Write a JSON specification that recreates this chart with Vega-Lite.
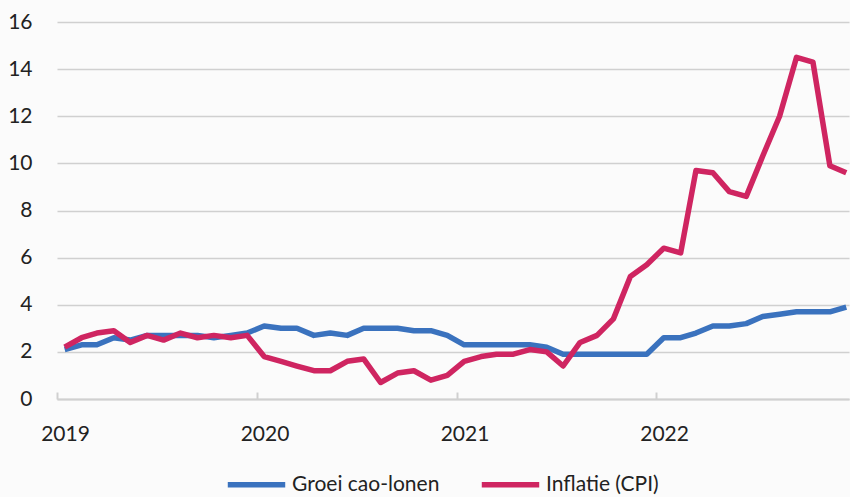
{
  "$schema": "https://vega.github.io/schema/vega-lite/v6.json",
  "width": 792,
  "height": 377,
  "autosize": {"type": "none"},
  "padding": {"left": 57, "top": 22, "right": 1, "bottom": 98},
  "background": "#fbfbfb",
  "datasets": {
    "rows": [
      {"date": "2019-01-15", "serie": "Groei cao-lonen", "value": 2.1},
      {"date": "2019-02-15", "serie": "Groei cao-lonen", "value": 2.3},
      {"date": "2019-03-15", "serie": "Groei cao-lonen", "value": 2.3},
      {"date": "2019-04-15", "serie": "Groei cao-lonen", "value": 2.6},
      {"date": "2019-05-15", "serie": "Groei cao-lonen", "value": 2.5},
      {"date": "2019-06-15", "serie": "Groei cao-lonen", "value": 2.7},
      {"date": "2019-07-15", "serie": "Groei cao-lonen", "value": 2.7},
      {"date": "2019-08-15", "serie": "Groei cao-lonen", "value": 2.7},
      {"date": "2019-09-15", "serie": "Groei cao-lonen", "value": 2.7},
      {"date": "2019-10-15", "serie": "Groei cao-lonen", "value": 2.6},
      {"date": "2019-11-15", "serie": "Groei cao-lonen", "value": 2.7},
      {"date": "2019-12-15", "serie": "Groei cao-lonen", "value": 2.8},
      {"date": "2020-01-15", "serie": "Groei cao-lonen", "value": 3.1},
      {"date": "2020-02-15", "serie": "Groei cao-lonen", "value": 3.0},
      {"date": "2020-03-15", "serie": "Groei cao-lonen", "value": 3.0},
      {"date": "2020-04-15", "serie": "Groei cao-lonen", "value": 2.7},
      {"date": "2020-05-15", "serie": "Groei cao-lonen", "value": 2.8},
      {"date": "2020-06-15", "serie": "Groei cao-lonen", "value": 2.7},
      {"date": "2020-07-15", "serie": "Groei cao-lonen", "value": 3.0},
      {"date": "2020-08-15", "serie": "Groei cao-lonen", "value": 3.0},
      {"date": "2020-09-15", "serie": "Groei cao-lonen", "value": 3.0},
      {"date": "2020-10-15", "serie": "Groei cao-lonen", "value": 2.9},
      {"date": "2020-11-15", "serie": "Groei cao-lonen", "value": 2.9},
      {"date": "2020-12-15", "serie": "Groei cao-lonen", "value": 2.7},
      {"date": "2021-01-15", "serie": "Groei cao-lonen", "value": 2.3},
      {"date": "2021-02-15", "serie": "Groei cao-lonen", "value": 2.3},
      {"date": "2021-03-15", "serie": "Groei cao-lonen", "value": 2.3},
      {"date": "2021-04-15", "serie": "Groei cao-lonen", "value": 2.3},
      {"date": "2021-05-15", "serie": "Groei cao-lonen", "value": 2.3},
      {"date": "2021-06-15", "serie": "Groei cao-lonen", "value": 2.2},
      {"date": "2021-07-15", "serie": "Groei cao-lonen", "value": 1.9},
      {"date": "2021-08-15", "serie": "Groei cao-lonen", "value": 1.9},
      {"date": "2021-09-15", "serie": "Groei cao-lonen", "value": 1.9},
      {"date": "2021-10-15", "serie": "Groei cao-lonen", "value": 1.9},
      {"date": "2021-11-15", "serie": "Groei cao-lonen", "value": 1.9},
      {"date": "2021-12-15", "serie": "Groei cao-lonen", "value": 1.9},
      {"date": "2022-01-15", "serie": "Groei cao-lonen", "value": 2.6},
      {"date": "2022-02-15", "serie": "Groei cao-lonen", "value": 2.6},
      {"date": "2022-03-15", "serie": "Groei cao-lonen", "value": 2.8},
      {"date": "2022-04-15", "serie": "Groei cao-lonen", "value": 3.1},
      {"date": "2022-05-15", "serie": "Groei cao-lonen", "value": 3.1},
      {"date": "2022-06-15", "serie": "Groei cao-lonen", "value": 3.2},
      {"date": "2022-07-15", "serie": "Groei cao-lonen", "value": 3.5},
      {"date": "2022-08-15", "serie": "Groei cao-lonen", "value": 3.6},
      {"date": "2022-09-15", "serie": "Groei cao-lonen", "value": 3.7},
      {"date": "2022-10-15", "serie": "Groei cao-lonen", "value": 3.7},
      {"date": "2022-11-15", "serie": "Groei cao-lonen", "value": 3.7},
      {"date": "2022-12-15", "serie": "Groei cao-lonen", "value": 3.9},
      {"date": "2019-01-15", "serie": "Inflatie (CPI)", "value": 2.2},
      {"date": "2019-02-15", "serie": "Inflatie (CPI)", "value": 2.6},
      {"date": "2019-03-15", "serie": "Inflatie (CPI)", "value": 2.8},
      {"date": "2019-04-15", "serie": "Inflatie (CPI)", "value": 2.9},
      {"date": "2019-05-15", "serie": "Inflatie (CPI)", "value": 2.4},
      {"date": "2019-06-15", "serie": "Inflatie (CPI)", "value": 2.7},
      {"date": "2019-07-15", "serie": "Inflatie (CPI)", "value": 2.5},
      {"date": "2019-08-15", "serie": "Inflatie (CPI)", "value": 2.8},
      {"date": "2019-09-15", "serie": "Inflatie (CPI)", "value": 2.6},
      {"date": "2019-10-15", "serie": "Inflatie (CPI)", "value": 2.7},
      {"date": "2019-11-15", "serie": "Inflatie (CPI)", "value": 2.6},
      {"date": "2019-12-15", "serie": "Inflatie (CPI)", "value": 2.7},
      {"date": "2020-01-15", "serie": "Inflatie (CPI)", "value": 1.8},
      {"date": "2020-02-15", "serie": "Inflatie (CPI)", "value": 1.6},
      {"date": "2020-03-15", "serie": "Inflatie (CPI)", "value": 1.4},
      {"date": "2020-04-15", "serie": "Inflatie (CPI)", "value": 1.2},
      {"date": "2020-05-15", "serie": "Inflatie (CPI)", "value": 1.2},
      {"date": "2020-06-15", "serie": "Inflatie (CPI)", "value": 1.6},
      {"date": "2020-07-15", "serie": "Inflatie (CPI)", "value": 1.7},
      {"date": "2020-08-15", "serie": "Inflatie (CPI)", "value": 0.7},
      {"date": "2020-09-15", "serie": "Inflatie (CPI)", "value": 1.1},
      {"date": "2020-10-15", "serie": "Inflatie (CPI)", "value": 1.2},
      {"date": "2020-11-15", "serie": "Inflatie (CPI)", "value": 0.8},
      {"date": "2020-12-15", "serie": "Inflatie (CPI)", "value": 1.0},
      {"date": "2021-01-15", "serie": "Inflatie (CPI)", "value": 1.6},
      {"date": "2021-02-15", "serie": "Inflatie (CPI)", "value": 1.8},
      {"date": "2021-03-15", "serie": "Inflatie (CPI)", "value": 1.9},
      {"date": "2021-04-15", "serie": "Inflatie (CPI)", "value": 1.9},
      {"date": "2021-05-15", "serie": "Inflatie (CPI)", "value": 2.1},
      {"date": "2021-06-15", "serie": "Inflatie (CPI)", "value": 2.0},
      {"date": "2021-07-15", "serie": "Inflatie (CPI)", "value": 1.4},
      {"date": "2021-08-15", "serie": "Inflatie (CPI)", "value": 2.4},
      {"date": "2021-09-15", "serie": "Inflatie (CPI)", "value": 2.7},
      {"date": "2021-10-15", "serie": "Inflatie (CPI)", "value": 3.4},
      {"date": "2021-11-15", "serie": "Inflatie (CPI)", "value": 5.2},
      {"date": "2021-12-15", "serie": "Inflatie (CPI)", "value": 5.7},
      {"date": "2022-01-15", "serie": "Inflatie (CPI)", "value": 6.4},
      {"date": "2022-02-15", "serie": "Inflatie (CPI)", "value": 6.2},
      {"date": "2022-03-15", "serie": "Inflatie (CPI)", "value": 9.7},
      {"date": "2022-04-15", "serie": "Inflatie (CPI)", "value": 9.6},
      {"date": "2022-05-15", "serie": "Inflatie (CPI)", "value": 8.8},
      {"date": "2022-06-15", "serie": "Inflatie (CPI)", "value": 8.6},
      {"date": "2022-07-15", "serie": "Inflatie (CPI)", "value": 10.3},
      {"date": "2022-08-15", "serie": "Inflatie (CPI)", "value": 12.0},
      {"date": "2022-09-15", "serie": "Inflatie (CPI)", "value": 14.5},
      {"date": "2022-10-15", "serie": "Inflatie (CPI)", "value": 14.3},
      {"date": "2022-11-15", "serie": "Inflatie (CPI)", "value": 9.9},
      {"date": "2022-12-15", "serie": "Inflatie (CPI)", "value": 9.6}
    ]
  },
  "data": {"name": "rows"},
  "mark": {"type": "line", "strokeWidth": 5.5, "strokeJoin": "round", "clip": false},
  "encoding": {
    "x": {
      "field": "date",
      "type": "temporal",
      "title": null,
      "scale": {"domain": [{"year": 2019, "month": 1, "date": 1}, {"year": 2022, "month": 12, "date": 20}]},
      "axis": {
        "values": [{"year": 2019, "month": 1, "date": 1}, {"year": 2020, "month": 1, "date": 1}, {"year": 2021, "month": 1, "date": 1}, {"year": 2022, "month": 1, "date": 1}],
        "format": "%Y",
        "grid": false,
        "domainColor": "#d0d0d0",
        "domainWidth": 2,
        "tickColor": "#d0d0d0",
        "tickWidth": 2,
        "tickSize": -7,
        "labelPadding": 31,
        "labelOffset": 8,
        "labelFont": "Lato",
        "labelFontSize": 21,
        "labelColor": "#222222",
        "labelFlush": false
      }
    },
    "y": {
      "field": "value",
      "type": "quantitative",
      "title": null,
      "scale": {"domain": [0, 16], "nice": false},
      "axis": {
        "values": [0, 2, 4, 6, 8, 10, 12, 14, 16],
        "grid": true,
        "gridColor": "#d0d0d0",
        "gridWidth": 1.5,
        "domain": false,
        "ticks": false,
        "labelPadding": 25,
        "labelFont": "Lato",
        "labelFontSize": 21,
        "labelColor": "#222222"
      }
    },
    "color": {
      "field": "serie",
      "type": "nominal",
      "scale": {"domain": ["Groei cao-lonen", "Inflatie (CPI)"], "range": ["#3a72be", "#cf2561"]},
      "legend": {
        "title": null,
        "orient": "none",
        "direction": "horizontal",
        "legendX": 168,
        "legendY": 431,
        "symbolType": "stroke",
        "symbolSize": 3300,
        "symbolStrokeWidth": 5.5,
        "labelFont": "Lato",
        "labelFontSize": 21,
        "labelColor": "#222222",
        "labelOffset": 4,
        "columnPadding": 30
      }
    }
  },
  "config": {"view": {"stroke": null}}
}
